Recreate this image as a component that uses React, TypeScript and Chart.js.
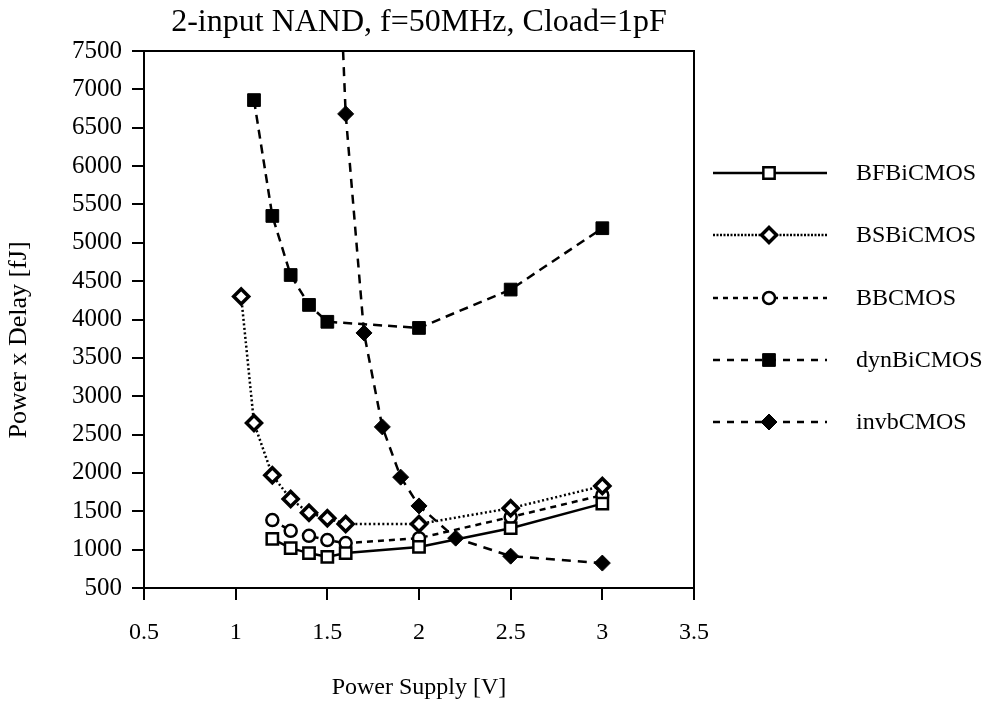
import React, { useEffect, useRef } from 'react';
import { Chart, registerables } from 'chart.js';

Chart.register(...registerables);

const TITLE = '2-input NAND, f=50MHz, Cload=1pF';
const X_TITLE = 'Power Supply [V]';
const Y_TITLE = 'Power x Delay [fJ]';

const xTicks = [0.5, 1, 1.5, 2, 2.5, 3, 3.5];
const yTicks = [500, 1000, 1500, 2000, 2500, 3000, 3500, 4000, 4500, 5000, 5500, 6000, 6500, 7000, 7500];

const seriesNames = ['BFBiCMOS', 'BSBiCMOS', 'BBCMOS', 'dynBiCMOS', 'invbCMOS'];

const bfV = [1.2, 1.3, 1.4, 1.5, 1.6, 2.0, 2.5, 3.0];
const bfY = [1140, 1020, 955, 905, 955, 1035, 1280, 1600];

const bsV = [1.03, 1.1, 1.2, 1.3, 1.4, 1.5, 1.6, 2.0, 2.5, 3.0];
const bsY = [4300, 2650, 1970, 1660, 1480, 1410, 1335, 1335, 1540, 1830];

const bbV = [1.2, 1.3, 1.4, 1.5, 1.6, 2.0, 2.5, 3.0];
const bbY = [1385, 1245, 1180, 1125, 1085, 1150, 1425, 1710];

const dynV = [1.1, 1.2, 1.3, 1.4, 1.5, 2.0, 2.5, 3.0];
const dynY = [6860, 5350, 4580, 4190, 3970, 3890, 4390, 5190];

const invV = [1.5, 1.6, 1.7, 1.8, 1.9, 2.0, 2.2, 2.5, 3.0];
const invY = [12500, 6680, 3825, 2600, 1945, 1570, 1150, 915, 825];

const FONT = '"Liberation Serif", "Times New Roman", serif';

const pts = (xs: number[], ys: number[]) => xs.map((x, i) => ({ x, y: ys[i] }));

type Marker = { style: string; r: number; fill: string; bw: number };

const markers: Marker[] = [
  { style: 'rect', r: 8, fill: '#fff', bw: 2.5 },
  { style: 'rectRot', r: 7.5, fill: '#fff', bw: 3.5 },
  { style: 'circle', r: 6, fill: '#fff', bw: 2.5 },
  { style: 'rect', r: 9, fill: '#000', bw: 1 },
  { style: 'rectRot', r: 8, fill: '#000', bw: 1 },
];
const lineDashes: number[][] = [[], [2, 2.5], [6, 5], [9, 6], [9, 7]];
const lineWidths = [2.5, 2.5, 2.5, 2.5, 2.5];
const legendDashes: number[][] = [[], [2, 1.5], [5, 5], [7, 7], [7, 7]];

function drawMarker(ctx: CanvasRenderingContext2D, m: Marker, x: number, y: number) {
  ctx.save();
  ctx.setLineDash([]);
  ctx.fillStyle = m.fill;
  ctx.strokeStyle = '#000';
  ctx.lineWidth = m.bw;
  ctx.beginPath();
  if (m.style === 'rect') {
    const s = m.r * Math.SQRT1_2;
    ctx.rect(x - s, y - s, 2 * s, 2 * s);
  } else if (m.style === 'rectRot') {
    ctx.moveTo(x, y - m.r);
    ctx.lineTo(x + m.r, y);
    ctx.lineTo(x, y + m.r);
    ctx.lineTo(x - m.r, y);
    ctx.closePath();
  } else {
    ctx.arc(x, y, m.r, 0, Math.PI * 2);
  }
  ctx.fill();
  ctx.stroke();
  ctx.restore();
}

const framePlugin = {
  id: 'frame',
  afterDatasetsDraw(chart: any) {
    const { ctx, chartArea } = chart;
    ctx.save();
    ctx.strokeStyle = '#000';
    ctx.lineWidth = 2;
    ctx.strokeRect(chartArea.left, chartArea.top, chartArea.right - chartArea.left, chartArea.bottom - chartArea.top);
    ctx.restore();
  },
};

const yTitlePlugin = {
  id: 'yTitle',
  afterDraw(chart: any) {
    const ctx: CanvasRenderingContext2D = chart.ctx;
    ctx.save();
    ctx.translate(19, 340);
    ctx.rotate(-Math.PI / 2);
    ctx.fillStyle = '#000';
    ctx.font = `26px ${FONT}`;
    ctx.textAlign = 'center';
    ctx.textBaseline = 'middle';
    ctx.fillText(Y_TITLE, 0, 0);
    ctx.restore();
  },
};

const legendPlugin = {
  id: 'customLegend',
  afterDraw(chart: any) {
    const ctx: CanvasRenderingContext2D = chart.ctx;
    const ys = [173, 235, 298, 360, 422];
    const x0 = 713;
    const x1 = 827;
    const xm = 769;
    ctx.save();
    seriesNames.forEach((name, i) => {
      const y = ys[i];
      ctx.strokeStyle = '#000';
      ctx.lineWidth = lineWidths[i];
      ctx.setLineDash(legendDashes[i]);
      ctx.beginPath();
      ctx.moveTo(x0, y);
      ctx.lineTo(x1, y);
      ctx.stroke();
      drawMarker(ctx, markers[i], xm, y);
      ctx.setLineDash([]);
      ctx.fillStyle = '#000';
      ctx.font = `24px ${FONT}`;
      ctx.textAlign = 'left';
      ctx.textBaseline = 'middle';
      ctx.fillText(name, 856, y + 1);
    });
    ctx.restore();
  },
};

export default function App() {
  const ref = useRef<HTMLCanvasElement | null>(null);

  useEffect(() => {
    document.body.style.margin = '0';
    const canvas = ref.current;
    if (!canvas) return;
    const dataSets = [
      pts(bfV, bfY),
      pts(bsV, bsY),
      pts(bbV, bbY),
      pts(dynV, dynY),
      pts(invV, invY),
    ];
    const chart = new Chart(canvas, {
      type: 'scatter',
      data: {
        datasets: dataSets.map((d, i) => ({
          label: seriesNames[i],
          data: d,
          showLine: true,
          borderColor: '#000',
          borderWidth: lineWidths[i],
          borderDash: lineDashes[i],
          pointStyle: markers[i].style as any,
          pointRadius: markers[i].r,
          pointHoverRadius: markers[i].r,
          pointBackgroundColor: markers[i].fill,
          pointBorderColor: '#000',
          pointBorderWidth: markers[i].bw,
          fill: false,
          tension: 0,
          clip: 0,
        })),
      },
      options: {
        animation: false,
        responsive: false,
        maintainAspectRatio: false,
        devicePixelRatio: 1,
        layout: { padding: { left: 0, right: 298, top: 0, bottom: 0 } },
        font: { family: FONT },
        plugins: {
          legend: { display: false },
          tooltip: { enabled: false },
          title: {
            display: true,
            text: TITLE,
            fullSize: false,
            color: '#000',
            font: { family: FONT, size: 32, weight: 'normal', lineHeight: 1.2 },
            padding: { top: 3, bottom: 9.6 },
          },
        },
        scales: {
          x: {
            type: 'linear',
            min: 0.5,
            max: 3.5,
            afterBuildTicks: (scale: any) => {
              scale.ticks = xTicks.map((v) => ({ value: v }));
            },
            afterFit: (scale: any) => {
              scale.height = 117;
            },
            ticks: {
              color: '#000',
              font: { family: FONT, size: 24 },
              padding: 18,
              maxRotation: 0,
              autoSkip: false,
              callback: (v: any) => String(v),
            },
            grid: {
              display: true,
              drawOnChartArea: false,
              drawTicks: true,
              tickLength: 12,
              color: '#000',
              lineWidth: 2,
            },
            border: { display: true, color: '#000', width: 2 },
            title: {
              display: true,
              text: X_TITLE,
              color: '#000',
              font: { family: FONT, size: 24, lineHeight: 1.2 },
              padding: { top: 0, bottom: 3 },
            },
          },
          y: {
            type: 'linear',
            min: 500,
            max: 7500,
            afterBuildTicks: (scale: any) => {
              scale.ticks = yTicks.map((v) => ({ value: v }));
            },
            afterFit: (scale: any) => {
              scale.width = 144;
            },
            ticks: {
              color: '#000',
              font: { family: FONT, size: 25 },
              padding: 10,
              autoSkip: false,
              callback: (v: any) => String(v),
            },
            grid: {
              display: true,
              drawOnChartArea: false,
              drawTicks: true,
              tickLength: 12,
              color: '#000',
              lineWidth: 2,
            },
            border: { display: true, color: '#000', width: 2 },
            title: { display: false },
          },
        },
      },
      plugins: [framePlugin, legendPlugin, yTitlePlugin],
    });
    return () => chart.destroy();
  }, []);

  return (
    <div style={{ position: 'absolute', left: 0, top: 0, width: 992, height: 705, background: '#fff' }}>
      <canvas ref={ref} width={992} height={705} style={{ display: 'block' }} />
    </div>
  );
}
